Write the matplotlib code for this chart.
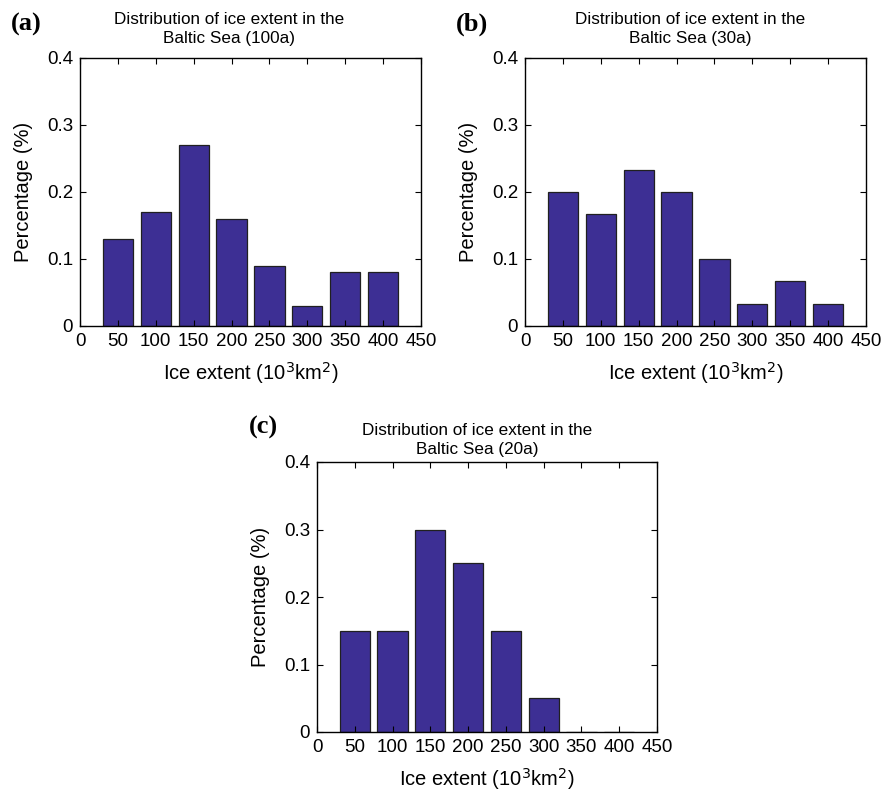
import numpy as np
import matplotlib.pyplot as plt

plt.rcParams['font.family'] = ['Liberation Sans', 'DejaVu Sans']

# bin centres (10^3 km^2)
centers = [50, 100, 150, 200, 250, 300, 350, 400]
ticks = [0, 50, 100, 150, 200, 250, 300, 350, 400, 450]
yticks = [0, 0.1, 0.2, 0.3, 0.4]

pct_100a = [0.13, 0.17, 0.27, 0.16, 0.09, 0.03, 0.08, 0.08]
pct_30a = [6/30, 5/30, 7/30, 6/30, 3/30, 1/30, 2/30, 1/30]
pct_20a = [0.15, 0.15, 0.30, 0.25, 0.15, 0.05, 0.0, 0.0]

titles = ['Distribution of ice extent in the\nBaltic Sea (100a)',
          'Distribution of ice extent in the\nBaltic Sea (30a)',
          'Distribution of ice extent in the\nBaltic Sea (20a)']
tags = ['(a)', '(b)', '(c)']

W, H = 896, 799
fig = plt.figure(figsize=(W/100, H/100), dpi=100)

# axes boxes in pixels: left, top, right, bottom
boxes = [(80, 58, 421, 326), (525, 58, 866, 326), (317, 462, 657, 732)]
tagpos = [(11, 31), (456, 31), (249, 434)]
title_x = [0.438, 0.484, 0.47]
title_pad = [11, 11, 6]

for i, (box, vals) in enumerate(zip(boxes, [pct_100a, pct_30a, pct_20a])):
    l, t, r, b = box
    ax = fig.add_axes([l/W, 1-b/H, (r-l)/W, (b-t)/H])
    ax.bar(centers, vals, width=40, color='#3d2f94', edgecolor='#202020', linewidth=0.9)
    ax.set_xlim(0, 450)
    ax.set_ylim(0, 0.4)
    ax.set_xticks(ticks)
    ax.set_yticks(yticks)
    ax.set_yticklabels(['0', '0.1', '0.2', '0.3', '0.4'])
    ax.tick_params(direction='in', top=True, right=True, labelsize=13.5, length=4, pad=5)
    ax.set_xlabel('Ice extent (10$^3$km$^2$)', fontsize=14.5, labelpad=7)
    ax.set_ylabel('Percentage (%)', fontsize=14.5, labelpad=10)
    ax.set_title(titles[i], fontsize=12.3, pad=title_pad[i], linespacing=1.3, x=title_x[i])
    for s in ax.spines.values():
        s.set_linewidth(1)
    fig.text(tagpos[i][0]/W, 1-tagpos[i][1]/H, tags[i], fontsize=19, fontweight='bold',
             family='Liberation Serif')

fig.savefig('out.png', dpi=100)
